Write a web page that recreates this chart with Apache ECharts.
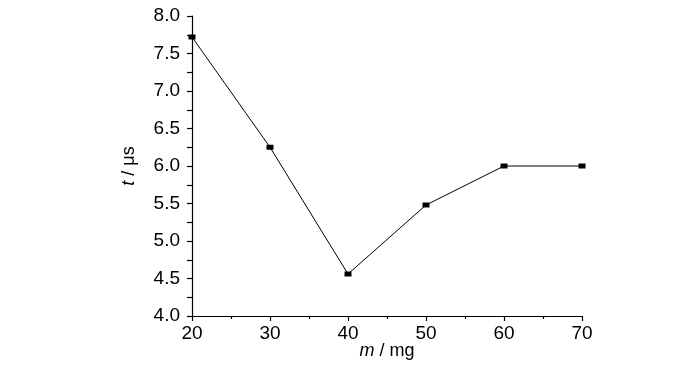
<!DOCTYPE html>
<html>
<head>
<meta charset="utf-8">
<script src="https://cdn.jsdelivr.net/npm/echarts@6/dist/echarts.min.js"></script>
<style>
html,body{margin:0;padding:0;background:#fff;}
#chart{width:700px;height:365px;}
</style>
</head>
<body>
<div id="chart"></div>
<script>
const massValues = [20, 30, 40, 50, 60, 70];
const timeValues = [7.72, 6.25, 4.56, 5.48, 6.0, 6.0];
const FONT = '"Liberation Sans Narrow", "Arial Narrow", "Liberation Sans", Arial, sans-serif';

const chart = echarts.init(document.getElementById('chart'));
chart.setOption({
  animation: false,
  backgroundColor: '#fff',
  grid: { left: 192, right: 118, top: 16, bottom: 49, containLabel: false, outerBoundsMode: 'none' },
  xAxis: {
    type: 'value', min: 20, max: 70, interval: 10,
    name: '{i|m} / mg', nameLocation: 'middle', nameGap: 26, nameMoveOverlap: false,
    nameTextStyle: { fontFamily: FONT, fontSize: 18, color: '#000',
      rich: { i: { fontStyle: 'italic', fontFamily: FONT, fontSize: 18, color: '#000' } } },
    axisLine: { lineStyle: { color: '#000', width: 1.2 } },
    axisTick: { show: true, length: 5, lineStyle: { color: '#000', width: 1.2 } },
    minorTick: { show: true, splitNumber: 2, length: 3, lineStyle: { color: '#000', width: 1.2 } },
    splitLine: { show: false },
    axisLabel: { fontFamily: FONT, fontSize: 19, color: '#000', margin: 8 }
  },
  yAxis: {
    type: 'value', min: 4, max: 8, interval: 0.5,
    name: '{i|t} / μs', nameLocation: 'middle', nameGap: 54, nameRotate: 90, nameMoveOverlap: false,
    nameTextStyle: { fontFamily: FONT, fontSize: 18, color: '#000',
      rich: { i: { fontStyle: 'italic', fontFamily: FONT, fontSize: 18, color: '#000' } } },
    axisLine: { show: true, lineStyle: { color: '#000', width: 1.2 } },
    axisTick: { show: true, length: 5, lineStyle: { color: '#000', width: 1.2 } },
    minorTick: { show: true, splitNumber: 2, length: 5, lineStyle: { color: '#000', width: 1.2 } },
    splitLine: { show: false },
    axisLabel: { fontFamily: FONT, fontSize: 19, color: '#000', margin: 12,
      formatter: v => v.toFixed(1) }
  },
  series: [{
    type: 'line',
    data: massValues.map((m, i) => [m, timeValues[i]]),
    symbol: 'rect', symbolSize: [7, 5],
    itemStyle: { color: '#000' },
    lineStyle: { color: '#000', width: 1 },
    clip: false
  }]
});
</script>
</body>
</html>
